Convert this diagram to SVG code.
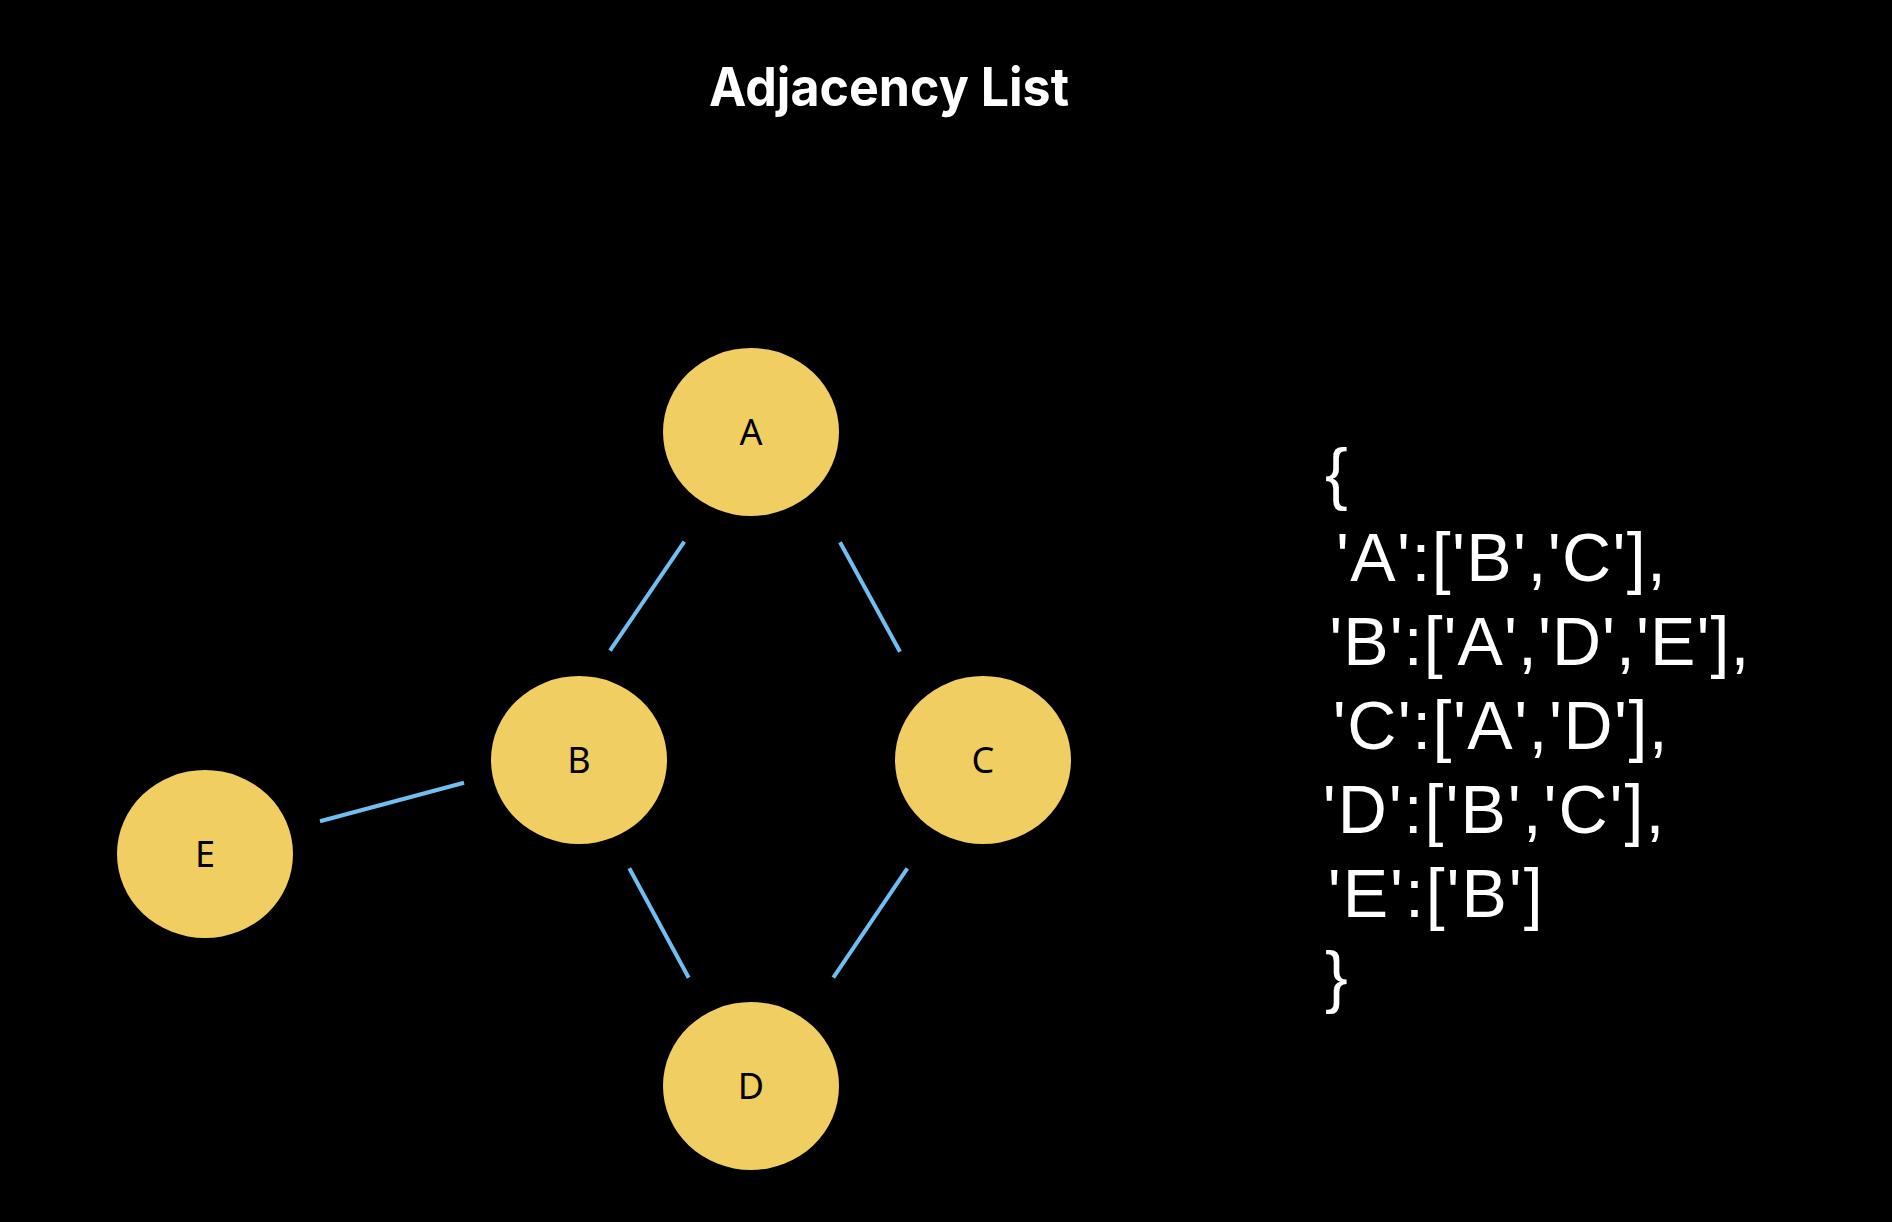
<svg xmlns="http://www.w3.org/2000/svg" width="1892" height="1222" viewBox="0 0 1892 1222">
<style>
.node{fill:#f0ce61}
.lbl{font-family:"Noto Sans","Open Sans","DejaVu Sans",sans-serif;font-size:36px;fill:#000;text-anchor:middle}
.edge{stroke:#71bef2;stroke-width:4;fill:none}
.title{font-family:Inter,"Liberation Sans",sans-serif;font-weight:700;font-size:54px;fill:#fff}
.code{font-family:"Liberation Sans",Arial,sans-serif;font-size:68px;fill:#fff}
</style>
<rect width="1892" height="1222" fill="#000"/>
<text class="title" x="709" y="106" textLength="360" lengthAdjust="spacingAndGlyphs">Adjacency List</text>
<g id="connectors">
<line class="edge" x1="684.3" y1="541.7" x2="610" y2="650.7"/>
<line class="edge" x1="840" y1="542.3" x2="900" y2="651.7"/>
<line class="edge" x1="629.3" y1="868.3" x2="688.7" y2="977.7"/>
<line class="edge" x1="907.3" y1="868.3" x2="833.3" y2="977.7"/>
<line class="edge" x1="320" y1="821.3" x2="464" y2="782.7"/>
</g>
<g id="node-A"><ellipse class="node" cx="751" cy="432" rx="88" ry="84"/><text class="lbl" x="751" y="445">A</text></g>
<g id="node-B"><ellipse class="node" cx="579" cy="760" rx="88" ry="84"/><text class="lbl" x="579" y="773">B</text></g>
<g id="node-C"><ellipse class="node" cx="983" cy="760" rx="88" ry="84"/><text class="lbl" x="983" y="773">C</text></g>
<g id="node-D"><ellipse class="node" cx="751" cy="1086" rx="88" ry="84"/><text class="lbl" x="751" y="1099">D</text></g>
<g id="node-E"><ellipse class="node" cx="205" cy="854" rx="88" ry="84"/><text class="lbl" x="205" y="867">E</text></g>
<g id="adjacency-text">
<text class="code" x="1325" y="497">{</text>
<text class="code" x="1336" y="581" textLength="330" lengthAdjust="spacing">'A':['B','C'],</text>
<text class="code" x="1329.3" y="664.5" textLength="420" lengthAdjust="spacing">'B':['A','D','E'],</text>
<text class="code" x="1332.7" y="748.5" textLength="335" lengthAdjust="spacing">'C':['A','D'],</text>
<text class="code" x="1322.7" y="832.5" textLength="341.6" lengthAdjust="spacing">'D':['B','C'],</text>
<text class="code" x="1327.7" y="916.5" textLength="215" lengthAdjust="spacing">'E':['B']</text>
<text class="code" x="1325" y="1000">}</text>
</g>
</svg>
